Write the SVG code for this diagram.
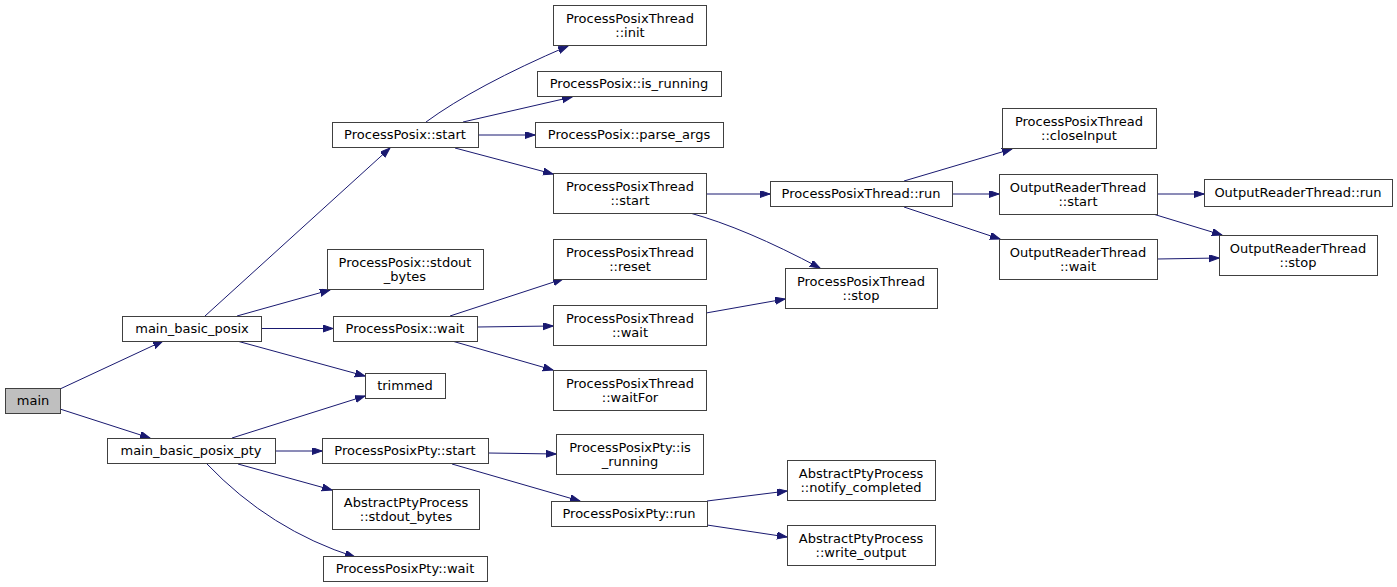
<svg xmlns="http://www.w3.org/2000/svg" width="1397" height="587" viewBox="0 0 1397 587">
<defs>
<marker id="arr" markerUnits="userSpaceOnUse" markerWidth="11" markerHeight="8" refX="10" refY="3.5" orient="auto">
<path d="M0,0 L10,3.5 L0,7 Z" fill="#191970" stroke="#191970" stroke-width="1"/>
</marker>
<style>
.n rect{fill:#ffffff;stroke:#404040;stroke-width:1}
.n.root rect{fill:#bfbfbf}
.n text{font-family:"DejaVu Sans","Liberation Sans",sans-serif;font-size:13px;fill:#000;text-anchor:middle}
#edges path{fill:none;stroke:#191970;stroke-width:1;marker-end:url(#arr)}
</style>
</defs>
<rect width="1397" height="587" fill="#ffffff"/>
<g id="edges">
<path d="M60,389 L163,341"/>
<path d="M60,409 L150,438"/>
<path d="M205,316 L390,148"/>
<path d="M237,316 L330,290"/>
<path d="M261,328.5 L333,328.5"/>
<path d="M237,341 L365,376"/>
<path d="M232,438 L365,396"/>
<path d="M275,451 L322,451"/>
<path d="M238,464 L332,490"/>
<path d="M207,464 Q270,530 355,557"/>
<path d="M426,122 Q475,86 568,46"/>
<path d="M463,122 L572,97"/>
<path d="M478,135 L535,135"/>
<path d="M455,148 L553,174"/>
<path d="M706,194 L770,194"/>
<path d="M690,213 Q745,228 820,268"/>
<path d="M450,316 L563,279"/>
<path d="M477,327 L553,326"/>
<path d="M452,341 L553,370"/>
<path d="M706,313 L785,299"/>
<path d="M904,181 L1012,149"/>
<path d="M952,194 L999,194"/>
<path d="M904,207 L1000,239"/>
<path d="M1157,194 L1204,194"/>
<path d="M1153,214 L1222,235"/>
<path d="M1157,259 L1219,258"/>
<path d="M488,453 L556,454"/>
<path d="M452,464 L580,501"/>
<path d="M707,501 L787,491"/>
<path d="M707,525 L787,537"/>
</g>
<g id="n_main" class="n root"><rect x="5.5" y="388.5" width="55" height="25"/><text x="33" y="405">main</text></g>
<g id="n_mbp" class="n"><rect x="122.5" y="316.5" width="139" height="25"/><text x="192" y="333">main_basic_posix</text></g>
<g id="n_mbpp" class="n"><rect x="107.5" y="438.5" width="168" height="25"/><text x="191" y="455">main_basic_posix_pty</text></g>
<g id="n_pp_start" class="n"><rect x="332.5" y="122.5" width="146" height="25"/><text x="405" y="139">ProcessPosix::start</text></g>
<g id="n_ppt_init" class="n"><rect x="553.5" y="5.5" width="153" height="40"/><text x="630" y="23">ProcessPosixThread</text><text x="630" y="37">::init</text></g>
<g id="n_pp_isr" class="n"><rect x="537.5" y="71.5" width="184" height="25"/><text x="629" y="88">ProcessPosix::is_running</text></g>
<g id="n_pp_parse" class="n"><rect x="535.5" y="122.5" width="188" height="25"/><text x="629" y="139">ProcessPosix::parse_args</text></g>
<g id="n_ppt_start" class="n"><rect x="553.5" y="173.5" width="153" height="40"/><text x="630" y="191">ProcessPosixThread</text><text x="630" y="205">::start</text></g>
<g id="n_pp_stdout" class="n"><rect x="327.5" y="249.5" width="156" height="40"/><text x="405" y="267">ProcessPosix::stdout</text><text x="405" y="281">_bytes</text></g>
<g id="n_pp_wait" class="n"><rect x="333.5" y="316.5" width="144" height="25"/><text x="405" y="333">ProcessPosix::wait</text></g>
<g id="n_trimmed" class="n"><rect x="365.5" y="373.5" width="80" height="25"/><text x="405" y="390">trimmed</text></g>
<g id="n_ppt_reset" class="n"><rect x="553.5" y="239.5" width="153" height="40"/><text x="630" y="257">ProcessPosixThread</text><text x="630" y="271">::reset</text></g>
<g id="n_ppt_wait" class="n"><rect x="553.5" y="305.5" width="153" height="40"/><text x="630" y="323">ProcessPosixThread</text><text x="630" y="337">::wait</text></g>
<g id="n_ppt_waitfor" class="n"><rect x="553.5" y="370.5" width="153" height="40"/><text x="630" y="388">ProcessPosixThread</text><text x="630" y="402">::waitFor</text></g>
<g id="n_ppt_run" class="n"><rect x="770.5" y="181.5" width="182" height="25"/><text x="861" y="198">ProcessPosixThread::run</text></g>
<g id="n_ppt_stop" class="n"><rect x="785.5" y="268.5" width="152" height="40"/><text x="861" y="286">ProcessPosixThread</text><text x="861" y="300">::stop</text></g>
<g id="n_ppt_close" class="n"><rect x="1002.5" y="108.5" width="154" height="40"/><text x="1079" y="126">ProcessPosixThread</text><text x="1079" y="140">::closeInput</text></g>
<g id="n_ort_start" class="n"><rect x="999.5" y="174.5" width="158" height="40"/><text x="1078" y="192">OutputReaderThread</text><text x="1078" y="206">::start</text></g>
<g id="n_ort_wait" class="n"><rect x="999.5" y="239.5" width="158" height="40"/><text x="1078" y="257">OutputReaderThread</text><text x="1078" y="271">::wait</text></g>
<g id="n_ort_run" class="n"><rect x="1204.5" y="179.5" width="188" height="27"/><text x="1298" y="197">OutputReaderThread::run</text></g>
<g id="n_ort_stop" class="n"><rect x="1219.5" y="235.5" width="158" height="40"/><text x="1298" y="253">OutputReaderThread</text><text x="1298" y="267">::stop</text></g>
<g id="n_ppp_start" class="n"><rect x="322.5" y="438.5" width="166" height="25"/><text x="405" y="455">ProcessPosixPty::start</text></g>
<g id="n_ppp_isr" class="n"><rect x="556.5" y="434.5" width="147" height="40"/><text x="630" y="452">ProcessPosixPty::is</text><text x="630" y="466">_running</text></g>
<g id="n_app_stdout" class="n"><rect x="332.5" y="489.5" width="147" height="40"/><text x="406" y="507">AbstractPtyProcess</text><text x="406" y="521">::stdout_bytes</text></g>
<g id="n_ppp_run" class="n"><rect x="551.5" y="501.5" width="156" height="25"/><text x="629" y="518">ProcessPosixPty::run</text></g>
<g id="n_ppp_wait" class="n"><rect x="323.5" y="556.5" width="164" height="25"/><text x="405" y="573">ProcessPosixPty::wait</text></g>
<g id="n_app_notify" class="n"><rect x="787.5" y="460.5" width="148" height="40"/><text x="861" y="478">AbstractPtyProcess</text><text x="861" y="492">::notify_completed</text></g>
<g id="n_app_write" class="n"><rect x="787.5" y="525.5" width="148" height="40"/><text x="861" y="543">AbstractPtyProcess</text><text x="861" y="557">::write_output</text></g>
</svg>
